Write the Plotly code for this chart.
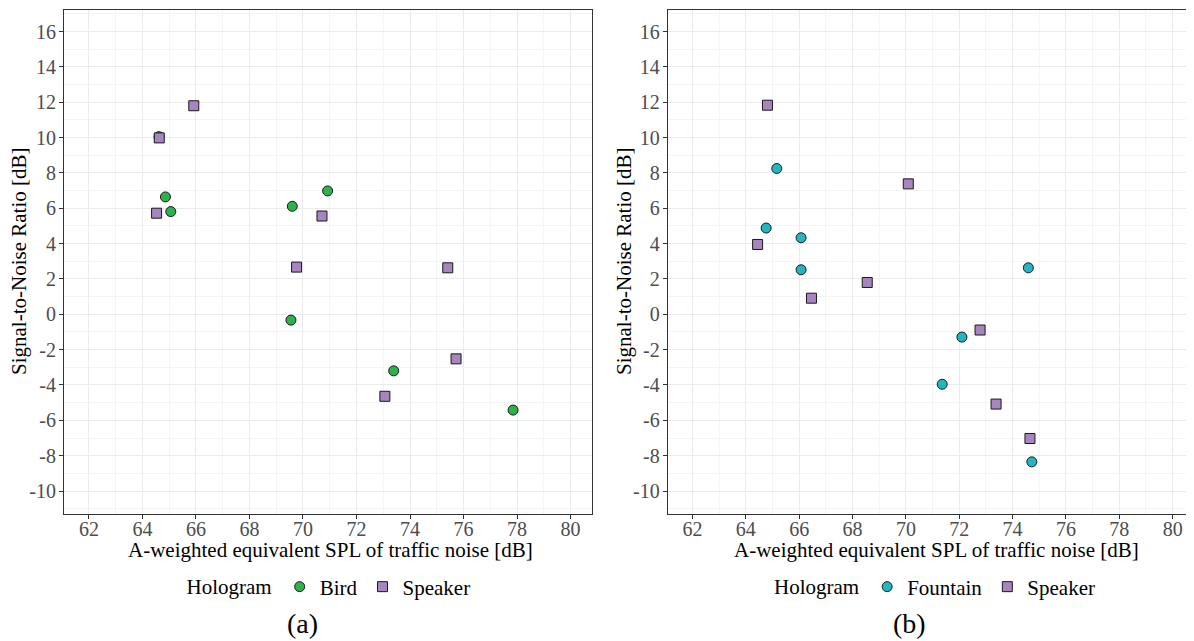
import plotly.graph_objects as go

# ---- data ----
bird_x = [64.62, 64.86, 65.06, 69.60, 70.92, 69.55, 73.39, 77.85]
bird_y = [10.05, 6.64, 5.81, 6.11, 6.98, -0.33, -3.20, -5.42]
speaker_a_x = [65.92, 64.63, 64.53, 70.71, 69.76, 75.41, 73.06, 75.72]
speaker_a_y = [11.80, 9.98, 5.72, 5.56, 2.67, 2.63, -4.64, -2.52]

fountain_x = [65.16, 64.76, 66.07, 66.07, 74.59, 72.10, 71.36, 74.72]
fountain_y = [8.25, 4.88, 4.33, 2.52, 2.63, -1.29, -3.96, -8.35]
speaker_b_x = [64.81, 70.09, 64.44, 68.55, 66.46, 72.78, 73.38, 74.65]
speaker_b_y = [11.83, 7.38, 3.95, 1.80, 0.91, -0.89, -5.08, -7.03]

x_ticks = [62, 64, 66, 68, 70, 72, 74, 76, 78, 80]
y_ticks = [16, 14, 12, 10, 8, 6, 4, 2, 0, -2, -4, -6, -8, -10]

x_title = "A-weighted equivalent SPL of traffic noise [dB]"
y_title = "Signal-to-Noise Ratio [dB]"

# ---- styles ----
FONT = "Liberation Serif, Times New Roman, DejaVu Serif, serif"
C_BIRD = "#2EB24B"
C_FOUNTAIN = "#22B6C3"
C_SPEAKER = "#A685C0"
TICK_SIZE = 20
TITLE_SIZE = 21
OFF = 8  # page body margin
W, H = 1194 - OFF, 641 - OFF

def px(v):
    return (v - OFF) / W

def py(v):
    return 1 - (v - OFF) / H

def mk(x, y, name, color, symbol, xa, ya, legend):
    return go.Scatter(
        x=x, y=y, mode="markers", name=name, xaxis=xa, yaxis=ya, legend=legend,
        marker=dict(color=color, symbol=symbol, size=10,
                    line=dict(color="#1A1A1A", width=1)),
        hoverinfo="x+y",
    )

fig = go.Figure()
fig.add_trace(mk(bird_x, bird_y, "Bird", C_BIRD, "circle", "x", "y", "legend"))
fig.add_trace(mk(speaker_a_x, speaker_a_y, "Speaker", C_SPEAKER, "square", "x", "y", "legend"))
fig.add_trace(mk(fountain_x, fountain_y, "Fountain", C_FOUNTAIN, "circle", "x2", "y2", "legend2"))
fig.add_trace(mk(speaker_b_x, speaker_b_y, "Speaker", C_SPEAKER, "square", "x2", "y2", "legend2"))

ydom = [py(514), py(10.3)]

def xaxis(domain, anchor):
    return dict(
        domain=domain, anchor=anchor, range=[61.07, 80.8],
        tickvals=x_ticks, ticktext=[str(v) for v in x_ticks],
        ticks="outside", ticklen=4, tickcolor="#333333", tickwidth=1,
        ticklabelstandoff=-7,
        tickfont=dict(family=FONT, size=TICK_SIZE, color="#4D4D4D"),
        showgrid=True, gridcolor="#EBEBEB", gridwidth=1,
        minor=dict(dtick=1, tick0=61, showgrid=True, gridcolor="#F4F4F4", gridwidth=0.6),
        showline=True, mirror=True, linecolor="#333333", linewidth=1,
        zeroline=False, automargin=False,
    )

def yaxis(anchor):
    return dict(
        domain=ydom, anchor=anchor, range=[-11.3, 17.2],
        tickvals=y_ticks, ticktext=[str(v) for v in y_ticks],
        ticks="outside", ticklen=4, tickcolor="#333333", tickwidth=1,
        ticklabelstandoff=-1,
        tickfont=dict(family=FONT, size=TICK_SIZE, color="#4D4D4D"),
        showgrid=True, gridcolor="#EBEBEB", gridwidth=1,
        minor=dict(dtick=1, tick0=-11, showgrid=True, gridcolor="#F4F4F4", gridwidth=0.6),
        showline=True, mirror=True, linecolor="#333333", linewidth=1,
        zeroline=False, automargin=False,
    )

def legend(xc):
    return dict(
        orientation="h", x=px(xc), xanchor="center", y=py(587), yanchor="middle",
        title=dict(text="Hologram", side="left", font=dict(family=FONT, size=TITLE_SIZE, color="black")),
        font=dict(family=FONT, size=TITLE_SIZE, color="black"),
        bgcolor="rgba(0,0,0,0)", itemclick=False, itemdoubleclick=False,
    )

ann = []
for xc, xt in [(330, x_title), (936, x_title)]:
    ann.append(dict(x=px(xc), y=py(550), xref="paper", yref="paper", text=xt,
                    showarrow=False, xanchor="center", yanchor="middle",
                    font=dict(family=FONT, size=TITLE_SIZE, color="black")))
for xc in [19, 624]:
    ann.append(dict(x=px(xc), y=py(262), xref="paper", yref="paper", text=y_title,
                    showarrow=False, xanchor="center", yanchor="middle", textangle=-90,
                    font=dict(family=FONT, size=TITLE_SIZE, color="black")))
for xc, lab in [(302, "(a)"), (909, "(b)")]:
    ann.append(dict(x=px(xc), y=0, xref="paper", yref="paper", text=lab,
                    showarrow=False, xanchor="center", yanchor="bottom",
                    font=dict(family=FONT, size=28, color="black")))

fig.update_layout(
    width=W, height=H,
    margin=dict(l=0, r=0, t=0, b=0),
    paper_bgcolor="white", plot_bgcolor="white",
    font=dict(family=FONT),
    xaxis=xaxis([px(64), px(592)], "y"),
    yaxis=yaxis("x"),
    xaxis2=xaxis([px(667.7), 1.0], "y2"),
    yaxis2=yaxis("x2"),
    legend=legend(330),
    legend2=legend(936),
    annotations=ann,
    showlegend=True,
)

fig.write_html("out.html")
